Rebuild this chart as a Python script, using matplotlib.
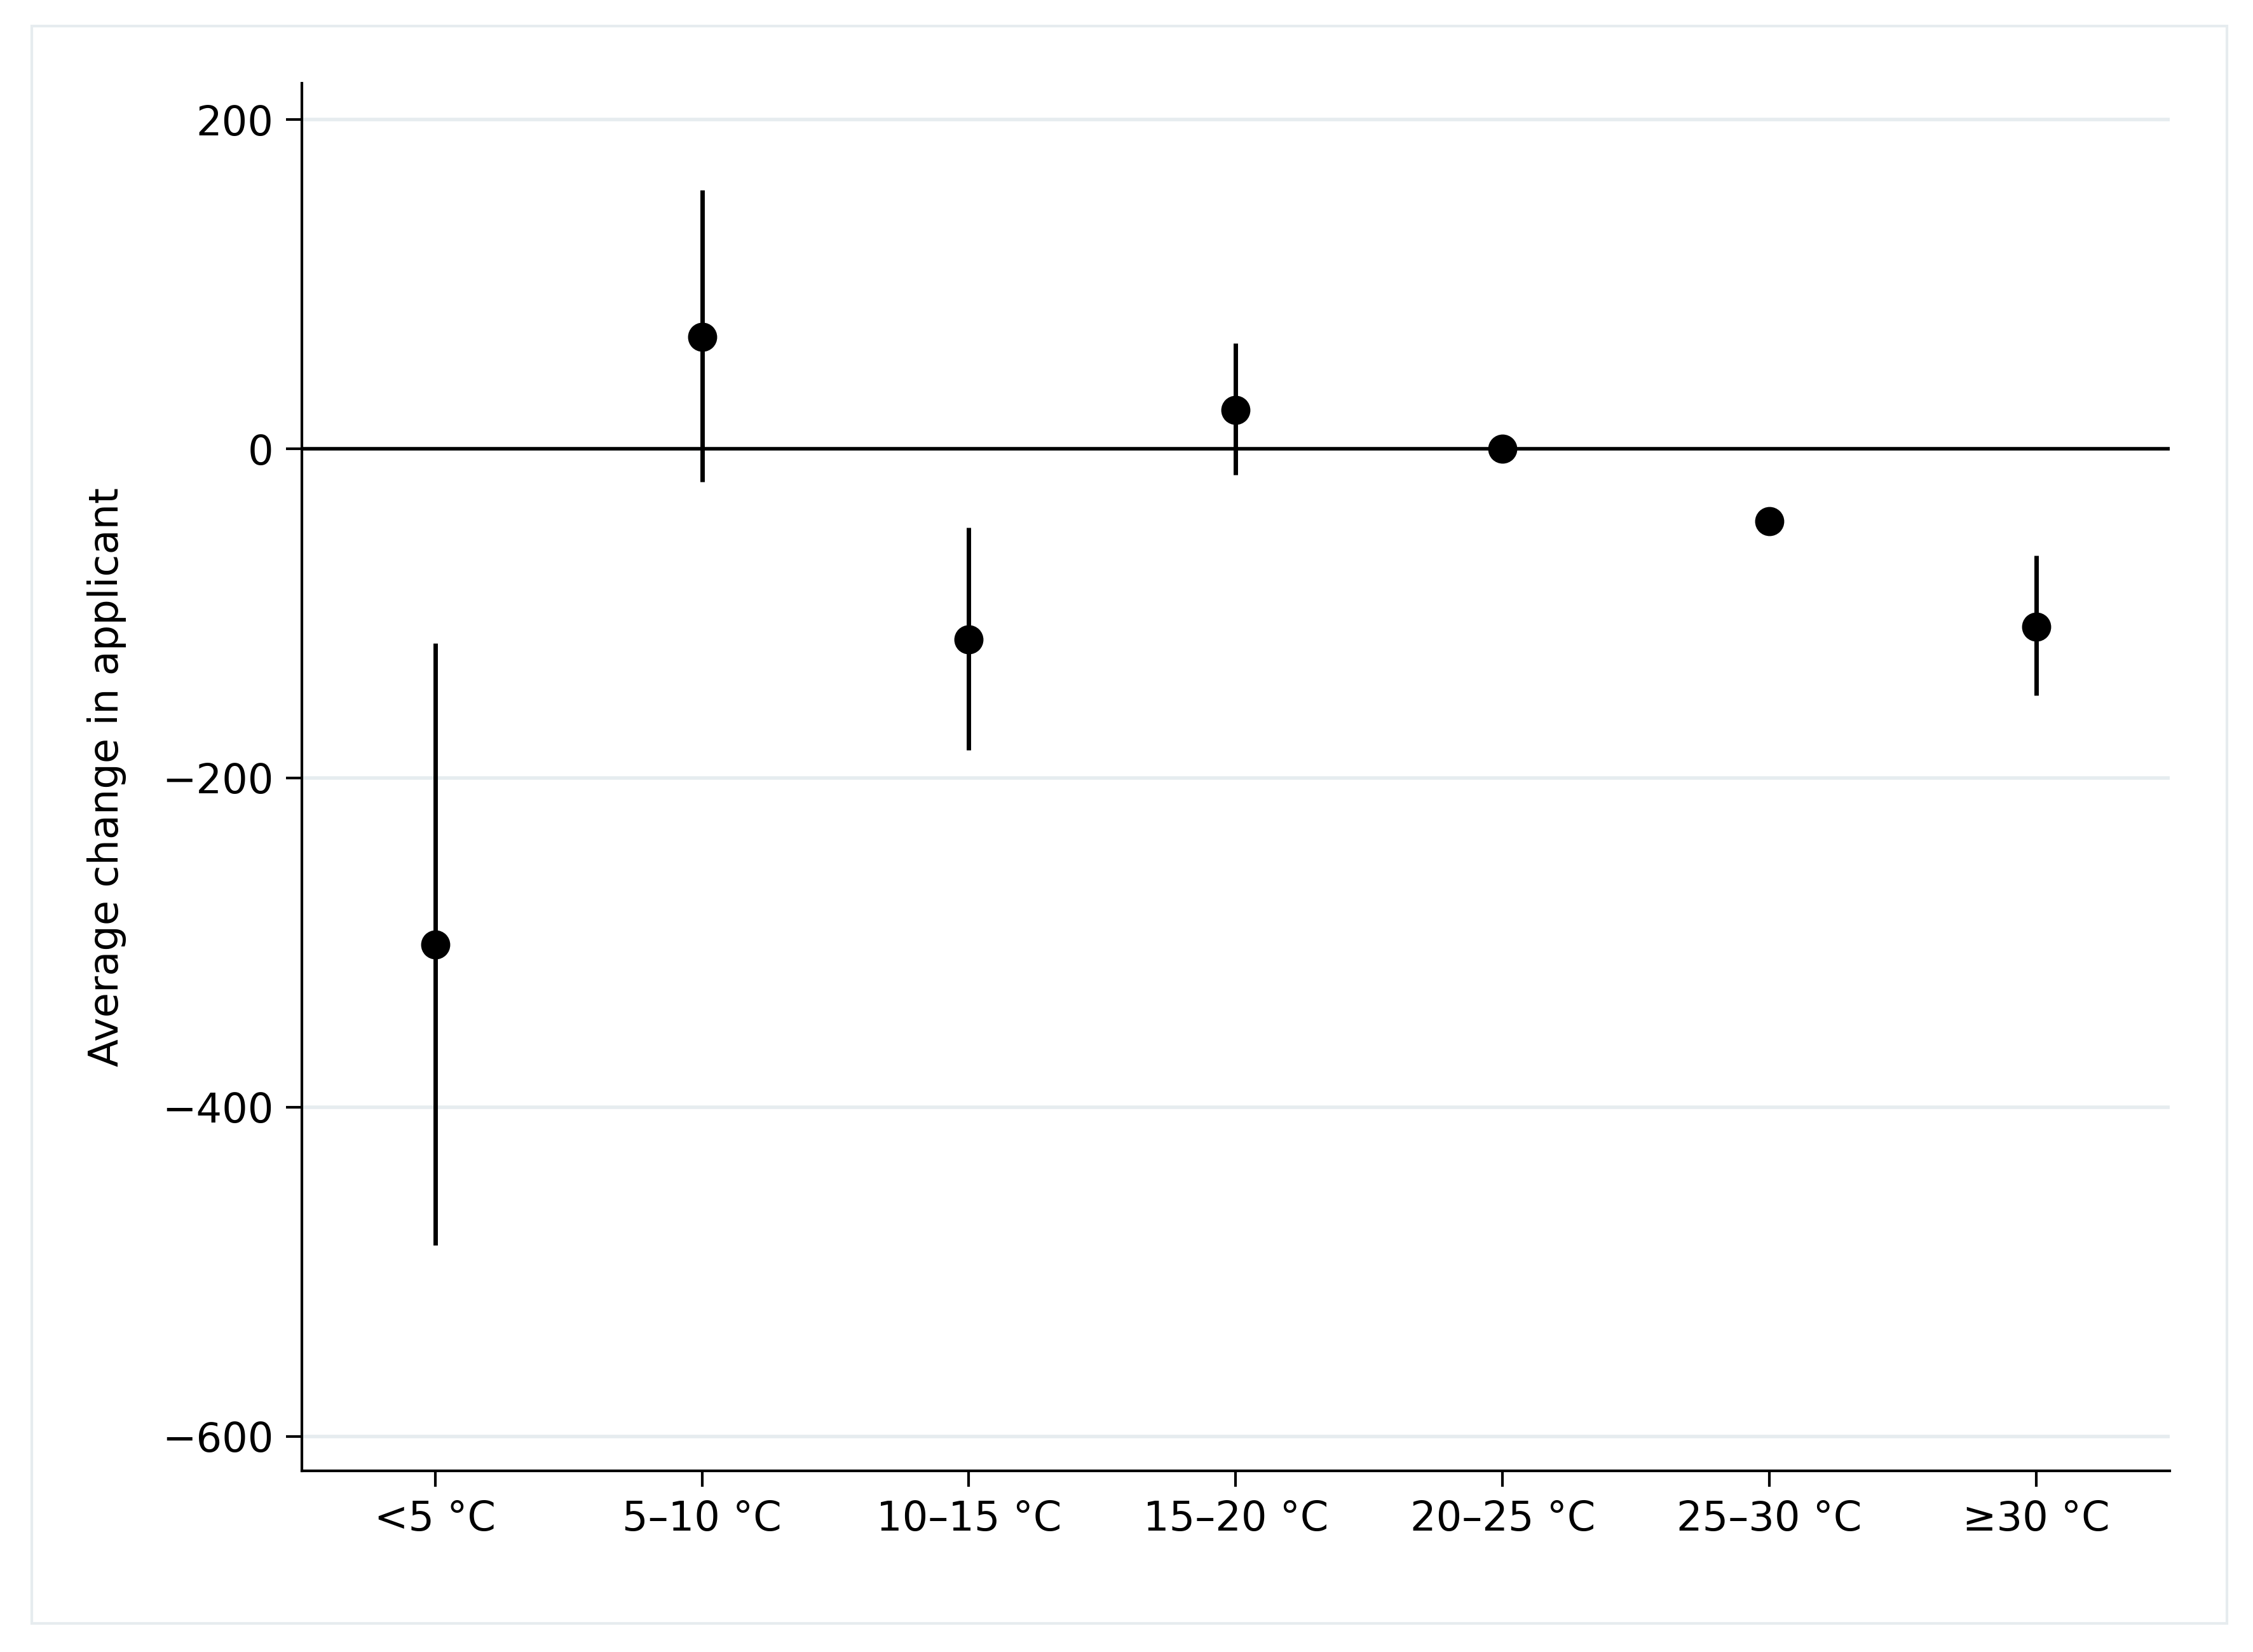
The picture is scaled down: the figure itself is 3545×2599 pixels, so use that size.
import matplotlib
matplotlib.use("Agg")
import matplotlib.pyplot as plt
from matplotlib.patches import Rectangle

categories = ["<5 °C", "5–10 °C", "10–15 °C", "15–20 °C", "20–25 °C", "25–30 °C", "≥30 °C"]
estimates = [-301, 68, -116, 23.5, 0, -44, -108]
ci_low = [-484, -20, -183, -16, 0, -44, -150]
ci_high = [-118, 157, -48, 64, 0, -44, -65]

fig = plt.figure(figsize=(35.45, 25.99), dpi=100)
fig.patches.append(Rectangle((22/1568, 1-1130/1150), (1550-22)/1568, (1130-18)/1150,
                             transform=fig.transFigure, fill=False, ec="#e6ecef", lw=3))
ax = fig.add_axes([210/1568, 1-1024/1150, 1300/1568, 966/1150])
x = list(range(len(categories)))
ax.vlines(x, ci_low, ci_high, color="black", lw=5, zorder=3)
ax.plot(x, estimates, "o", color="black", ms=32, zorder=4)
ax.axhline(0, color="black", lw=4, zorder=2)
ax.set_xlim(-0.5, 6.5)
ax.set_ylim(-621, 222)
ax.set_yticks([200, 0, -200, -400, -600])
ax.set_yticklabels(["200", "0", "−200", "−400", "−600"])
ax.set_xticks(x)
ax.set_xticklabels(categories)
ax.yaxis.grid(True, color="#e6ecef", lw=4)
ax.set_axisbelow(True)
for s in ["top", "right"]:
    ax.spines[s].set_visible(False)
for s in ["left", "bottom"]:
    ax.spines[s].set_linewidth(3)
ax.tick_params(labelsize=46, width=3, length=18, pad=14)
ax.set_ylabel("Average change in applicant", fontsize=46, labelpad=40)
fig.savefig("out.png", dpi=100)
